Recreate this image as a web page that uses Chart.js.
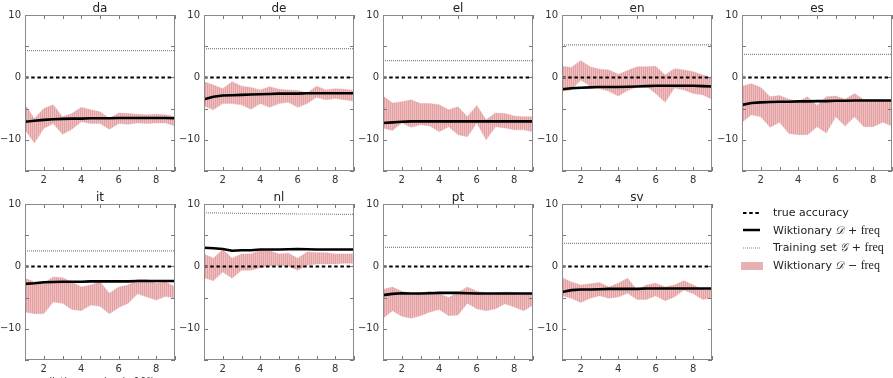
<!DOCTYPE html>
<html><head><meta charset="utf-8">
<script src="https://cdn.jsdelivr.net/npm/chart.js@4.4.1/dist/chart.umd.min.js"></script>
<style>
html,body{margin:0;padding:0;background:#fff;width:893px;height:378px;overflow:hidden;position:relative;font-family:'DejaVu Sans',sans-serif;}
canvas.p{position:absolute;}
.t{position:absolute;font-size:12px;line-height:14px;color:#222;text-align:center;width:150px;}
#legend{position:absolute;left:740px;top:204px;font-size:11px;color:#222;}
#legend .row{height:17.6px;display:flex;align-items:center;white-space:nowrap;}
#legend svg{width:24px;height:10px;margin-right:9px;flex:none;}
.m{font-family:'DejaVu Serif',serif;font-style:italic;}
.rm{font-family:'Liberation Serif',serif;font-size:12px;}
#xlab{position:absolute;left:25px;width:150px;top:375px;text-align:center;font-size:10px;line-height:13px;color:#333;}
</style></head>
<body>
<div id="wrap"></div>
<div id="legend">
  <div class="row"><svg viewBox="0 0 24 10"><line x1="3" y1="5" x2="20" y2="5" stroke="#000" stroke-width="2" stroke-dasharray="3.5,2.7"/></svg><span>true accuracy</span></div>
  <div class="row"><svg viewBox="0 0 24 10"><line x1="3" y1="5" x2="20" y2="5" stroke="#000" stroke-width="2.5"/></svg><span>Wiktionary <span class="m">𝒟</span> + <span class="rm">freq</span></span></div>
  <div class="row"><svg viewBox="0 0 24 10"><line x1="3" y1="5" x2="20" y2="5" stroke="#888" stroke-width="1.2" stroke-dasharray="1,1"/></svg><span>Training set <span class="m">𝒢</span> + <span class="rm">freq</span></span></div>
  <div class="row"><svg viewBox="0 0 24 10"><rect x="1" y="1" width="22" height="8" fill="#e9b0b2"/></svg><span>Wiktionary <span class="m">𝒟</span> − <span class="rm">freq</span></span></div>
</div>
<div id="xlab">dictionary size (×10³)</div>
<script>
// ---- data ----
const PANELS = ['da','de','el','en','es','it','nl','pt','sv'];
const XS = [1,1.5,2,2.5,3,3.5,4,4.5,5,5.5,6,6.5,7,7.5,8,8.5,9];
const XS_INT = [1,2,3,4,5,6,7,8,9];
const Y_TICK_LABELS = [-10, 0, 10];
const X_TICK_LABELS = [2, 4, 6, 8];

// Wiktionary D + freq (solid)
const WIKT_FREQ = [
  [-7.1,-6.95,-6.8,-6.7,-6.65,-6.6,-6.6,-6.55,-6.55,-6.55,-6.5,-6.5,-6.5,-6.5,-6.5,-6.5,-6.55],
  [-3.5,-3.1,-2.9,-2.85,-2.8,-2.75,-2.7,-2.65,-2.6,-2.6,-2.6,-2.55,-2.55,-2.55,-2.55,-2.55,-2.55],
  [-7.3,-7.2,-7.1,-7.05,-7.05,-7.05,-7.05,-7.05,-7.05,-7.05,-7.05,-7.05,-7.05,-7.05,-7.05,-7.05,-7.05],
  [-1.9,-1.75,-1.65,-1.6,-1.55,-1.55,-1.55,-1.5,-1.45,-1.4,-1.35,-1.35,-1.35,-1.35,-1.35,-1.4,-1.45],
  [-4.4,-4.1,-4.0,-3.95,-3.9,-3.9,-3.85,-3.85,-3.8,-3.8,-3.75,-3.75,-3.7,-3.7,-3.7,-3.7,-3.7],
  [-2.8,-2.7,-2.55,-2.5,-2.45,-2.45,-2.45,-2.4,-2.4,-2.4,-2.4,-2.4,-2.35,-2.35,-2.35,-2.35,-2.35],
  [3.0,2.9,2.8,2.5,2.6,2.6,2.7,2.7,2.7,2.75,2.8,2.75,2.7,2.7,2.7,2.7,2.7],
  [-4.6,-4.4,-4.3,-4.35,-4.35,-4.3,-4.25,-4.25,-4.25,-4.3,-4.35,-4.35,-4.35,-4.35,-4.35,-4.35,-4.35],
  [-4.1,-3.8,-3.7,-3.7,-3.65,-3.6,-3.6,-3.6,-3.6,-3.55,-3.55,-3.55,-3.55,-3.55,-3.55,-3.55,-3.55]
];
// Wiktionary D - freq band: upper / lower edges
const NOFREQ_HIGH = [
  [-4.4,-6.6,-5.0,-4.4,-6.3,-5.8,-4.8,-5.2,-5.5,-6.6,-5.7,-5.8,-5.9,-6.0,-5.9,-6.0,-6.3],
  [-0.7,-1.2,-1.8,-0.7,-1.4,-1.6,-2.0,-1.5,-1.9,-2.0,-2.1,-2.5,-1.4,-2.0,-1.8,-1.9,-2.1],
  [-3.0,-4.1,-3.9,-3.6,-4.2,-4.2,-4.4,-5.2,-4.7,-6.3,-4.5,-6.8,-5.7,-5.8,-6.2,-6.3,-6.3],
  [1.8,1.6,2.7,1.7,1.3,1.2,0.5,1.1,1.7,1.7,1.8,0.4,1.4,1.2,0.9,0.4,-0.1],
  [-1.4,-1.0,-1.6,-3.1,-2.9,-3.5,-3.9,-3.1,-4.5,-3.1,-3.0,-3.5,-2.6,-3.6,-3.6,-3.6,-3.7],
  [-1.9,-2.5,-2.7,-1.7,-1.8,-2.5,-3.3,-3.0,-2.5,-4.3,-3.3,-3.0,-2.1,-2.1,-2.7,-2.5,-3.3],
  [2.0,1.3,2.7,1.3,2.0,2.0,2.6,2.5,2.0,2.1,1.3,2.3,2.2,2.2,2.0,2.0,2.0],
  [-3.7,-3.3,-4.0,-4.35,-4.25,-4.0,-4.4,-5.0,-4.2,-3.3,-4.0,-4.3,-4.3,-4.1,-4.2,-4.4,-4.3],
  [-1.8,-2.5,-3.0,-2.8,-2.6,-3.3,-2.7,-1.9,-3.8,-3.0,-2.7,-3.3,-3.0,-2.3,-3.0,-3.7,-3.8]
];
const NOFREQ_LOW = [
  [-8.4,-10.5,-8.2,-7.4,-9.1,-8.3,-7.1,-7.4,-7.4,-8.3,-7.4,-7.5,-7.3,-7.4,-7.3,-7.3,-7.8],
  [-4.6,-5.2,-4.2,-4.2,-4.4,-5.1,-4.2,-4.8,-4.2,-4.0,-4.8,-4.2,-3.2,-3.6,-3.4,-3.6,-3.8],
  [-8.1,-8.5,-7.3,-8.0,-7.6,-7.8,-8.7,-7.9,-9.2,-9.5,-7.3,-10.0,-7.9,-8.1,-8.4,-8.4,-8.7],
  [-2.2,-2.0,-0.4,-1.4,-1.8,-2.2,-3.0,-2.1,-1.5,-1.4,-2.6,-4.0,-1.7,-2.0,-2.6,-2.8,-3.5],
  [-7.2,-6.0,-6.3,-8.0,-7.2,-9.0,-9.2,-9.2,-7.9,-8.9,-6.3,-7.8,-6.3,-7.9,-7.9,-7.2,-7.8],
  [-7.3,-7.6,-7.6,-5.7,-5.9,-6.9,-7.1,-6.2,-6.4,-7.6,-6.6,-5.9,-4.4,-4.9,-5.4,-4.8,-5.1],
  [-1.8,-2.3,-0.9,-1.9,-0.6,-0.6,-0.2,0.05,0.15,0.05,-0.6,0.2,0.4,0.4,0.4,0.5,0.5],
  [-8.3,-7.1,-8.0,-8.3,-7.9,-7.3,-6.9,-7.9,-7.8,-5.9,-6.8,-7.1,-6.8,-6.0,-6.5,-7.1,-6.2],
  [-4.7,-5.1,-5.8,-5.1,-4.7,-5.1,-4.9,-4.3,-5.3,-5.3,-4.7,-5.5,-4.9,-3.8,-4.4,-5.3,-5.1]
];
// Training set G + freq (dotted), at integer x
const TRAIN_FREQ = [
  [4.3,4.3,4.3,4.3,4.3,4.3,4.3,4.3,4.3],
  [4.6,4.6,4.6,4.6,4.6,4.6,4.6,4.6,4.6],
  [2.7,2.7,2.7,2.7,2.7,2.7,2.7,2.7,2.7],
  [5.2,5.2,5.2,5.2,5.2,5.2,5.2,5.2,5.2],
  [3.7,3.7,3.7,3.7,3.7,3.7,3.7,3.7,3.7],
  [2.5,2.5,2.5,2.5,2.5,2.5,2.5,2.5,2.5],
  [8.6,8.55,8.5,8.45,8.45,8.4,8.4,8.35,8.35],
  [3.05,3.05,3.05,3.05,3.05,3.05,3.05,3.05,3.05],
  [3.7,3.7,3.7,3.7,3.7,3.7,3.7,3.7,3.7]
];
// true accuracy reference (difference = 0)
const TRUE_ACC = [0,0,0,0,0,0,0,0,0];

// ---- layout ----
const COL_LEFT = [25,204,383,562,742];
const ROW_TOP = [15,204];
const PW = 150, PH = 156, PADL = 30, PADT = 16, PADR = 3, PADB = 20;

const pc = document.createElement('canvas');
pc.width = 2; pc.height = 4;
const g = pc.getContext('2d');
g.fillStyle = '#f0c0c1'; g.fillRect(0,0,2,4);
g.fillStyle = '#e2a0a3'; g.fillRect(1,0,1,4);
const bandPattern = g.createPattern(pc,'repeat');

const frameTicks = {
  id:'frameTicks',
  afterDraw(chart){
    const {ctx, chartArea:a, scales:{x,y}} = chart;
    ctx.save();
    ctx.strokeStyle = '#777'; ctx.lineWidth = 1;
    ctx.beginPath();
    x.ticks.forEach(t=>{
      const px = Math.round(x.getPixelForValue(t.value))+0.5;
      ctx.moveTo(px,a.bottom); ctx.lineTo(px,a.bottom-4);
      ctx.moveTo(px,a.top); ctx.lineTo(px,a.top+4);
    });
    y.ticks.forEach(t=>{
      const py = Math.round(y.getPixelForValue(t.value))+0.5;
      ctx.moveTo(a.left,py); ctx.lineTo(a.left+4,py);
      ctx.moveTo(a.right,py); ctx.lineTo(a.right-4,py);
    });
    ctx.stroke();
    ctx.strokeStyle = '#8a8a8a';
    ctx.strokeRect(Math.round(a.left)+0.5, Math.round(a.top)+0.5, Math.round(a.width)-1, Math.round(a.height)-1);
    ctx.restore();
  }
};

const fmt = v => (v < 0 ? '\u2212' + Math.abs(v) : String(v));
const wrap = document.getElementById('wrap');

PANELS.forEach((name, i) => {
  const r = Math.floor(i/5), c = i%5;
  const L = COL_LEFT[c], T = ROW_TOP[r];
  const cv = document.createElement('canvas');
  cv.className = 'p';
  cv.width = PADL+PW+PADR; cv.height = PADT+PH+PADB;
  cv.style.left = (L-PADL)+'px'; cv.style.top = (T-PADT)+'px';
  wrap.appendChild(cv);
  const tt = document.createElement('div');
  tt.className = 't'; tt.textContent = name;
  tt.style.left = L+'px'; tt.style.top = (T-14)+'px';
  wrap.appendChild(tt);

  const pts = (xs, ys) => xs.map((x,k)=>({x, y: ys[k]}));
  new Chart(cv, {
    type:'line',
    data:{datasets:[
      {label:'Wiktionary D + freq', data:pts(XS,WIKT_FREQ[i]), borderColor:'#000', borderWidth:2.6, pointRadius:0, fill:false},
      {label:'true accuracy', data:pts(XS_INT,TRUE_ACC), borderColor:'#000', borderWidth:2, borderDash:[3.5,2.7], pointRadius:0, fill:false},
      {label:'Training set G + freq', data:pts(XS_INT,TRAIN_FREQ[i]), borderColor:'#888', borderWidth:1.2, borderDash:[1,1], pointRadius:0, fill:false},
      {label:'Wiktionary D - freq', data:pts(XS,NOFREQ_HIGH[i]), borderColor:'rgba(226,160,163,0.7)', borderWidth:0.5, pointRadius:0, fill:'+1', backgroundColor:bandPattern},
      {label:'_low', data:pts(XS,NOFREQ_LOW[i]), borderColor:'rgba(226,160,163,0.7)', borderWidth:0.5, pointRadius:0, fill:false}
    ]},
    options:{
      responsive:false, animation:false, devicePixelRatio:1,
      layout:{padding:{top:PADT,right:PADR,left:0,bottom:0}},
      plugins:{legend:{display:false}, tooltip:{enabled:false}, title:{display:false}},
      elements:{line:{tension:0}},
      scales:{
        x:{type:'linear', min:1, max:9,
           afterFit:s=>{s.height=PADB;},
           afterBuildTicks:s=>{s.ticks = XS_INT.map(v=>({value:v}));},
           grid:{display:false, drawTicks:false}, border:{display:false},
           ticks:{padding:3, autoSkip:false, maxRotation:0, color:'#333', font:{family:'DejaVu Sans', size:10},
             callback:v=> X_TICK_LABELS.includes(v) ? fmt(v) : ''}},
        y:{type:'linear', min:-15, max:10,
           afterFit:s=>{s.width=PADL;},
           afterBuildTicks:s=>{s.ticks = [-15,-10,-5,0,5,10].map(v=>({value:v}));},
           grid:{display:false, drawTicks:false}, border:{display:false},
           ticks:{padding:4, autoSkip:false, color:'#333', font:{family:'DejaVu Sans', size:10},
             callback:v=> Y_TICK_LABELS.includes(v) ? fmt(v) : ''}}
      }
    },
    plugins:[frameTicks]
  });
});
</script>
</body></html>
